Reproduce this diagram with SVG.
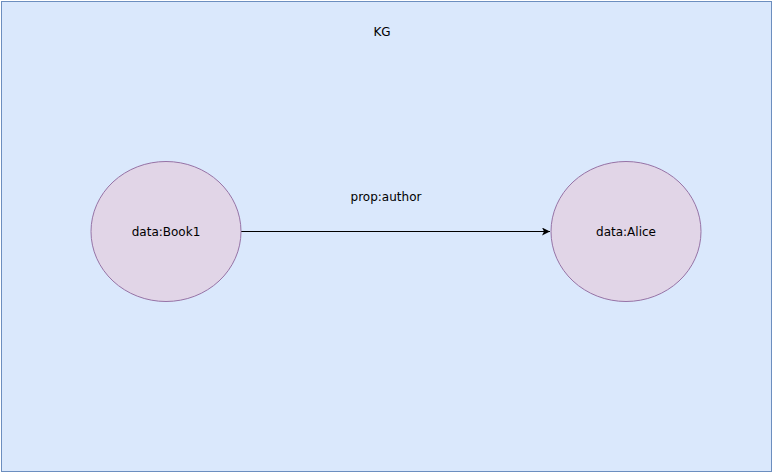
<svg xmlns="http://www.w3.org/2000/svg" width="774" height="474" viewBox="0 0 774 474">
<style>
.node{fill:#e1d5e7;stroke:#9673a6;stroke-width:1}
.t{font-family:"DejaVu Sans",sans-serif;font-size:12px;fill:#000;text-anchor:middle;dominant-baseline:central}
.edge{stroke:#000;stroke-width:1;fill:none}
</style>
<defs>
<marker id="arr" markerWidth="10" markerHeight="10" refX="8" refY="4" orient="auto" markerUnits="userSpaceOnUse">
<path d="M0,0 L8,4 L0,8 L2,4 Z" fill="#000"/>
</marker>
</defs>
<g id="kg">
<rect x="1.5" y="1.5" width="770" height="470" fill="#dae8fc" stroke="#6c8ebf" stroke-width="1"/>
<text class="t" x="382" y="32">KG</text>
</g>
<g id="connectors">
<line class="edge" x1="241" y1="231.5" x2="550" y2="231.5" marker-end="url(#arr)"/>
<text class="t" x="386" y="197">prop:author</text>
</g>
<g id="book1">
<ellipse class="node" cx="166" cy="231.5" rx="75" ry="70"/>
<text class="t" x="166" y="232">data:Book1</text>
</g>
<g id="alice">
<ellipse class="node" cx="626" cy="231.5" rx="75" ry="70"/>
<text class="t" x="626" y="232">data:Alice</text>
</g>
</svg>
